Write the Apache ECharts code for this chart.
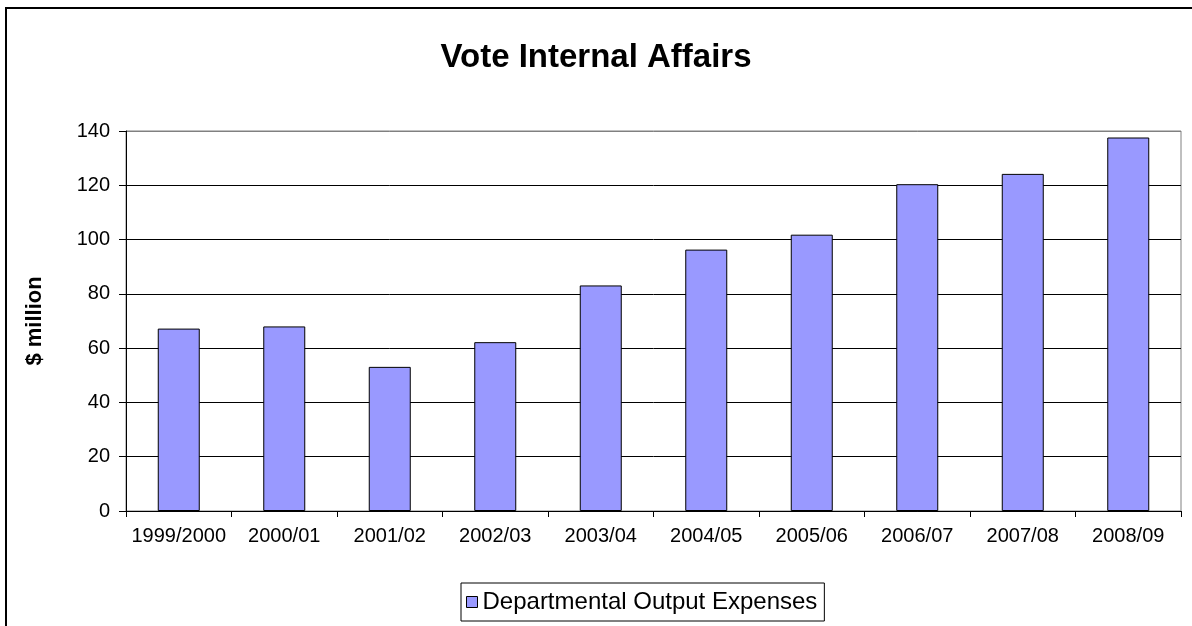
<!DOCTYPE html>
<html>
<head>
<meta charset="utf-8">
<script src="https://cdn.jsdelivr.net/npm/echarts@6/dist/echarts.min.js"></script>
<style>html,body{margin:0;padding:0;background:#fff;}#c{width:1192px;height:626px;}</style>
</head>
<body>
<div id="c"></div>
<script>
const categories = ['1999/2000','2000/01','2001/02','2002/03','2003/04','2004/05','2005/06','2006/07','2007/08','2008/09'];
const expenses = [67.2, 68.0, 53.1, 62.2, 83.1, 96.3, 101.8, 120.4, 124.2, 137.6];
const seriesName = 'Departmental Output Expenses';
const yTicks = { min: 0, max: 140, interval: 20 };

const font = '"Liberation Sans", Arial, sans-serif';
const chart = echarts.init(document.getElementById('c'), null, { renderer: 'canvas' });
chart.setOption({
  animation: false,
  backgroundColor: '#fff',
  graphic: [{
    type: 'rect', silent: true, z: -1,
    shape: { x: 6, y: 8, width: 1300, height: 800 },
    style: { fill: 'none', stroke: '#000', lineWidth: 2 }
  }],
  title: {
    text: 'Vote Internal Affairs',
    left: 'center', top: 36,
    textStyle: { fontFamily: font, fontWeight: 'bold', fontSize: 33, color: '#000' }
  },
  legend: {
    data: [seriesName],
    left: 461, top: 583,
    padding: [7, 7, 7, 5],
    borderColor: '#000', borderWidth: 1,
    icon: 'rect', itemWidth: 11, itemHeight: 11,
    itemStyle: { borderColor: '#000', borderWidth: 1 },
    textStyle: { fontFamily: font, fontSize: 24, color: '#000' }
  },
  grid: {
    left: 126, right: 11, top: 131, bottom: 115,
    show: true, borderColor: '#808080', borderWidth: 1, backgroundColor: 'transparent',
    containLabel: false
  },
  xAxis: {
    type: 'category', data: categories,
    axisLine: { lineStyle: { color: '#000', width: 1 } },
    axisTick: { show: true, length: 6, alignWithLabel: false, lineStyle: { color: '#000' } },
    axisLabel: { fontFamily: font, fontSize: 20, color: '#000', margin: 15, interval: 0 }
  },
  yAxis: {
    type: 'value', min: yTicks.min, max: yTicks.max, interval: yTicks.interval,
    name: '$ million', nameLocation: 'middle', nameGap: 80, nameRotate: 90,
    nameTextStyle: { fontFamily: font, fontWeight: 'bold', fontSize: 22, color: '#000' },
    axisLine: { show: true, lineStyle: { color: '#000', width: 1 } },
    axisTick: { show: true, length: 7, lineStyle: { color: '#000' } },
    axisLabel: { fontFamily: font, fontSize: 20, color: '#000', margin: 16 },
    splitLine: { show: true, lineStyle: { color: ['#000','#000','#000','#000','#000','#000','#000','#808080'], width: 1 } }
  },
  series: [{
    name: seriesName, type: 'bar', data: expenses,
    barWidth: 42,
    itemStyle: { color: '#9999FF', borderColor: '#000', borderWidth: 1 }
  }]
});
</script>
</body>
</html>
